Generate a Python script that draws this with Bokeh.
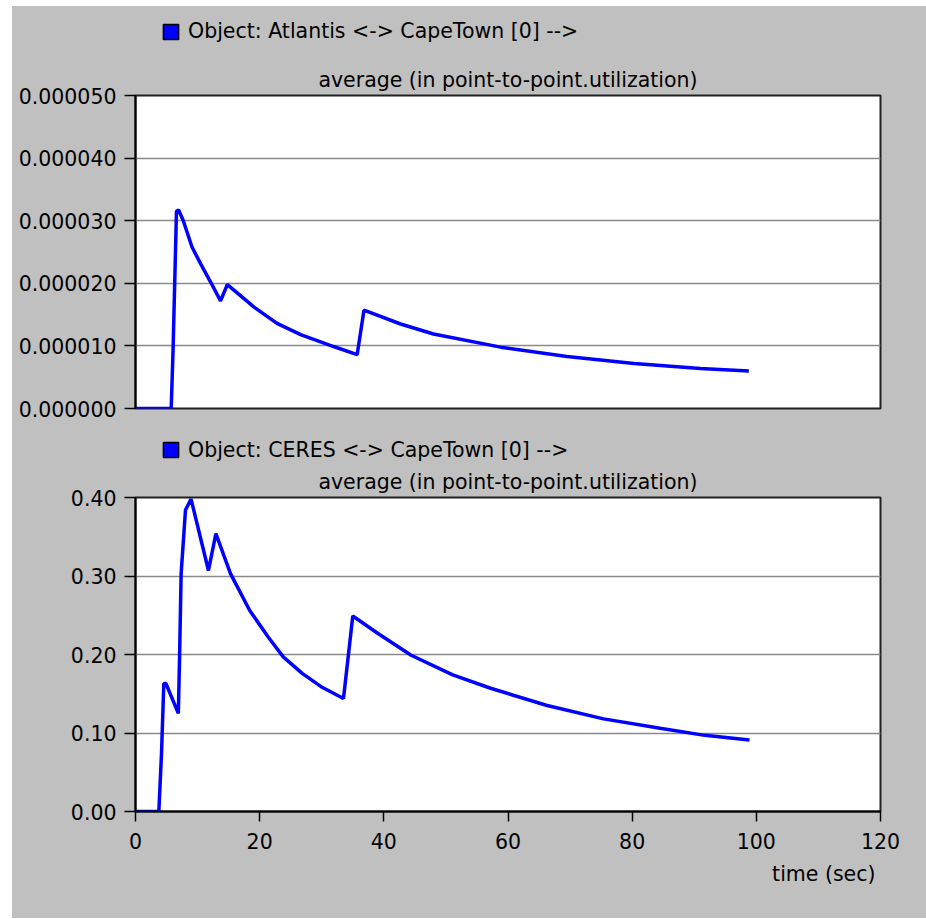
from bokeh.plotting import figure
from bokeh.layouts import column
from bokeh.models import (Range1d, Legend, LegendItem, Title,
                          PrintfTickFormatter, FixedTicker)
from bokeh.embed import file_html
from bokeh.resources import INLINE

# ---- data ----
time_top = [0, 5.75, 6.05, 6.6, 6.95, 7.7, 9.1, 10.5, 12.1, 13.7,
            14.8, 19.1, 22.8, 26.6, 31.9, 35.7,
            36.8, 42.7, 48.0, 58.8, 69.5, 80.3, 91.0, 98.8]
util_top = [0, 0, 0.93e-5, 3.15e-5, 3.17e-5, 3.0e-5, 2.58e-5, 2.31e-5, 2.02e-5, 1.72e-5,
            1.98e-5, 1.62e-5, 1.36e-5, 1.18e-5, 0.99e-5, 0.86e-5,
            1.57e-5, 1.35e-5, 1.19e-5, 0.98e-5, 0.83e-5, 0.72e-5, 0.64e-5, 0.60e-5]

time_bot = [0, 3.76, 4.19, 4.56, 4.9, 6.9, 7.1, 7.35, 8.05, 8.95,
            11.75, 12.95, 15.3, 18.4, 21.4, 23.8, 26.85, 29.9, 33.5,
            35.0, 39.0, 44.4, 51.1, 57.2, 66.3, 75.4, 84.5, 91.7, 98.9]
util_bot = [0, 0, 0.074, 0.163, 0.163, 0.125, 0.197, 0.303, 0.384, 0.398,
            0.307, 0.354, 0.303, 0.256, 0.222, 0.197, 0.176, 0.159, 0.144,
            0.249, 0.227, 0.199, 0.174, 0.157, 0.135, 0.118, 0.106, 0.097, 0.091]

x_ticks = [0, 20, 40, 60, 80, 100, 120]
y_ticks_top = [0, 1e-5, 2e-5, 3e-5, 4e-5, 5e-5]
y_ticks_bot = [0, 0.1, 0.2, 0.3, 0.4]

legend_top = "Object: Atlantis <-> CapeTown [0] -->"
legend_bot = "Object: CERES <-> CapeTown [0] -->"
stat_label = "average (in point-to-point.utilization)"
x_label = "time (sec)"

FONT = "DejaVu Sans"
FS = "20.5px"
GRAY = "#c0c0c0"
BLUE = "#0000ff"
W = 914
NAN = float("nan")


def header(height, leg_text, leg_y):
    h = figure(width=W, height=height, x_range=Range1d(0, 1), y_range=Range1d(0, 1),
               x_axis_location=None, y_axis_location=None,
               toolbar_location=None, output_backend="svg",
               min_border=0, border_fill_color=GRAY, background_fill_color=GRAY,
               outline_line_color=None)
    h.grid.visible = False
    # legend key only (no visible mark in the header)
    dummy = h.quad(left=[NAN], right=[NAN], top=[NAN], bottom=[NAN],
                   fill_color=BLUE, line_color="black", line_width=1.5)
    leg = Legend(items=[LegendItem(label=leg_text, renderers=[dummy])],
                 location=(26, leg_y), glyph_width=19, glyph_height=19,
                 label_standoff=8, padding=0, margin=0, spacing=0,
                 border_line_color=None, background_fill_alpha=0,
                 label_text_font=FONT, label_text_font_size=FS,
                 label_text_color="black")
    h.add_layout(leg)
    return h


def stat_title(p):
    p.add_layout(Title(text=stat_label, align="center", offset=-2.5, standoff=8,
                       text_font=FONT, text_font_size=FS, text_font_style="normal",
                       text_color="black"), "above")


def style_y(p, ticks, fmt):
    ax = p.yaxis[0]
    ax.ticker = FixedTicker(ticks=ticks)
    ax.formatter = PrintfTickFormatter(format=fmt)
    ax.major_label_text_font = FONT
    ax.major_label_text_font_size = FS
    ax.major_label_text_color = "black"
    ax.axis_line_color = "black"
    ax.axis_line_width = 2
    ax.major_tick_out = 11
    ax.major_tick_in = 0
    ax.minor_tick_out = 0
    ax.minor_tick_in = 0
    ax.major_tick_line_color = "black"
    ax.major_tick_line_width = 1.5
    ax.major_label_standoff = 8
    p.xgrid.visible = False
    p.ygrid.grid_line_color = "#8a8a8a"
    p.ygrid.grid_line_width = 1.5


# ---- top plot ----
h1 = header(45, legend_top, 8)
p1 = figure(width=W, height=371, x_range=Range1d(0, 120), y_range=Range1d(0, 5e-5),
            x_axis_location=None, toolbar_location=None, output_backend="svg",
            min_border_left=123, min_border_right=46, min_border_top=44,
            min_border_bottom=14, border_fill_color=GRAY,
            background_fill_color="white", outline_line_color="#202020",
            outline_line_width=2)
style_y(p1, y_ticks_top, "%.6f")
stat_title(p1)
p1.line(time_top, util_top, line_color=BLUE, line_width=3.5)

# ---- bottom plot ----
h2 = header(41, legend_bot, 1.5)
p2 = figure(width=W, height=455, x_range=Range1d(0, 120), y_range=Range1d(0, 0.4),
            toolbar_location=None, output_backend="svg",
            min_border_left=123, min_border_right=46, min_border_top=34,
            min_border_bottom=107, border_fill_color=GRAY,
            background_fill_color="white", outline_line_color="#202020",
            outline_line_width=2)
style_y(p2, y_ticks_bot, "%.2f")
stat_title(p2)
xa = p2.xaxis[0]
xa.ticker = FixedTicker(ticks=x_ticks)
xa.major_label_text_font = FONT
xa.major_label_text_font_size = FS
xa.major_label_text_color = "black"
xa.axis_line_color = "black"
xa.axis_line_width = 2
xa.major_tick_out = 10
xa.major_tick_in = 0
xa.minor_tick_out = 0
xa.minor_tick_in = 0
xa.major_tick_line_color = "black"
xa.major_tick_line_width = 1.5
xa.major_label_standoff = 11
p2.line(time_bot, util_bot, line_color=BLUE, line_width=3.5)
p2.add_layout(Title(text=x_label, align="right", offset=5, standoff=16,
                    text_font=FONT, text_font_size=FS, text_font_style="normal",
                    text_color="black"), "below")

layout = column(h1, p1, h2, p2, spacing=0, margin=(6, 0, 0, 12),
                styles={"background-color": GRAY})
open("out.html", "w").write(file_html(layout, INLINE))
